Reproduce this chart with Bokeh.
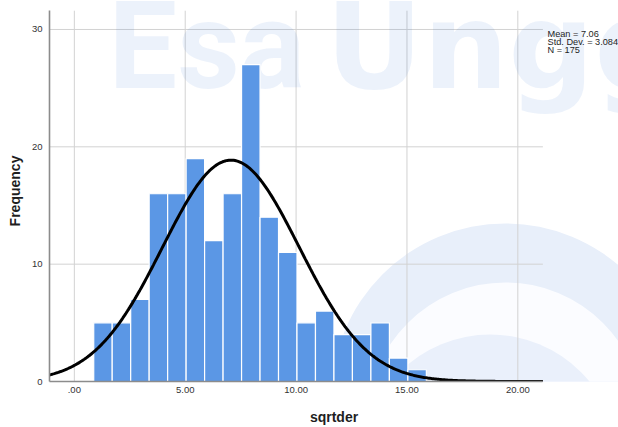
import numpy as np
from bokeh.plotting import figure
from bokeh.models import Range1d, FixedTicker, Label
from bokeh.embed import file_html
from bokeh.resources import INLINE

# Histogram data
bin_start = 0.875
bin_width = 0.8333
counts = [5, 5, 7, 16, 16, 19, 12, 16, 27, 14, 11, 5, 6, 4, 4, 5, 2, 1]

# Summary statistics shown in the chart
mean = 7.06
std_dev = 3.084
n = 175
stats = ["Mean = 7.06", "Std. Dev. = 3.084", "N = 175"]

x_ticks = [0, 5, 10, 15, 20]
x_tick_labels = {0: ".00", 5: "5.00", 10: "10.00", 15: "15.00", 20: "20.00"}
y_ticks = [0, 10, 20, 30]

# axis extents of the SPSS chart area
x_lo, x_hi = -1.12, 21.13
y_lo, y_hi = 0, 31.6

lefts = [bin_start + i * bin_width for i in range(len(counts))]
rights = [l + bin_width for l in lefts]

p = figure(width=618, height=427, output_backend="svg", toolbar_location=None,
           x_range=Range1d(x_lo, 24.54), y_range=Range1d(y_lo, 32.47),
           min_border_left=49, min_border_right=0, min_border_top=0, min_border_bottom=46)
p.outline_line_color = None
p.background_fill_color = "white"
p.border_fill_color = "white"
p.xgrid.visible = False
p.ygrid.visible = False

# faint watermark logo (background)
p.circle(x=[19.44], y=[-1.36], radius=174, radius_units="screen",
         fill_color="#e8effa", line_color=None, level="underlay")
p.circle(x=[19.44], y=[-3.32], radius=138, radius_units="screen",
         fill_color="#fbfcff", line_color=None, level="underlay")
p.circle(x=[18.76], y=[-6.90], radius=128, radius_units="screen",
         fill_color="#eaf0fb", line_color=None, level="underlay")
p.add_layout(Label(x=59, y=335, x_units="screen", y_units="screen", text="Esa",
                   text_font="Roboto", text_font_style="bold", text_font_size="122px",
                   text_color="#2f6fd6", text_alpha=0.09, text_baseline="alphabetic",
                   level="underlay"))
p.add_layout(Label(x=276, y=335, x_units="screen", y_units="screen", text="Ungg",
                   text_font="DejaVu Sans", text_font_style="bold", text_font_size="120px",
                   text_color="#2f6fd6", text_alpha=0.09, text_baseline="alphabetic",
                   level="underlay"))

# grid lines limited to the chart area
p.segment(x0=[x_lo] * len(y_ticks), x1=[x_hi] * len(y_ticks), y0=y_ticks, y1=y_ticks,
          line_color="#d2d2d2", line_width=1, level="underlay")
p.segment(x0=x_ticks, x1=x_ticks, y0=[y_lo] * len(x_ticks), y1=[y_hi] * len(x_ticks),
          line_color="#d2d2d2", line_width=1, level="underlay")

p.quad(left=lefts, right=rights, bottom=0, top=counts, fill_color="#5b97e5",
       line_color="white", line_width=1.2)

xs = np.linspace(x_lo, x_hi, 400)
ys = n * bin_width / (std_dev * np.sqrt(2 * np.pi)) * np.exp(-0.5 * ((xs - mean) / std_dev) ** 2)
p.line(xs, ys, line_color="black", line_width=3)

p.xaxis.ticker = FixedTicker(ticks=x_ticks)
p.xaxis.major_label_overrides = x_tick_labels
p.yaxis.ticker = FixedTicker(ticks=y_ticks)
p.xaxis.bounds = (x_lo, x_hi)
p.yaxis.bounds = (y_lo, y_hi)
for ax in (p.xaxis, p.yaxis):
    ax.major_tick_line_color = None
    ax.minor_tick_line_color = None
    ax.major_tick_out = 0
    ax.major_tick_in = 0
    ax.minor_tick_out = 0
    ax.axis_line_color = "#8c8c8c"
    ax.axis_line_width = 1.6
    ax.major_label_text_font = "Liberation Sans"
    ax.major_label_text_font_size = "9.5px"
    ax.major_label_text_color = "#333333"
    ax.axis_label_text_font = "Liberation Sans"
    ax.axis_label_text_font_size = "14px"
    ax.axis_label_text_font_style = "bold"
    ax.axis_label_text_color = "#1e1e1e"
p.xaxis.axis_label = "sqrtder"
p.yaxis.axis_label = "Frequency"
p.xaxis.major_label_standoff = 5
p.xaxis.axis_label_standoff = 13
p.yaxis.major_label_standoff = 7
p.yaxis.axis_label_standoff = 6

for i, t in enumerate(stats):
    p.add_layout(Label(x=498, y=348 - i * 8, x_units="screen", y_units="screen", text=t,
                       text_font="Liberation Sans", text_font_size="9.2px", text_color="#1e1e1e",
                       text_baseline="alphabetic"))

open("out.html", "w").write(file_html(p, INLINE))
